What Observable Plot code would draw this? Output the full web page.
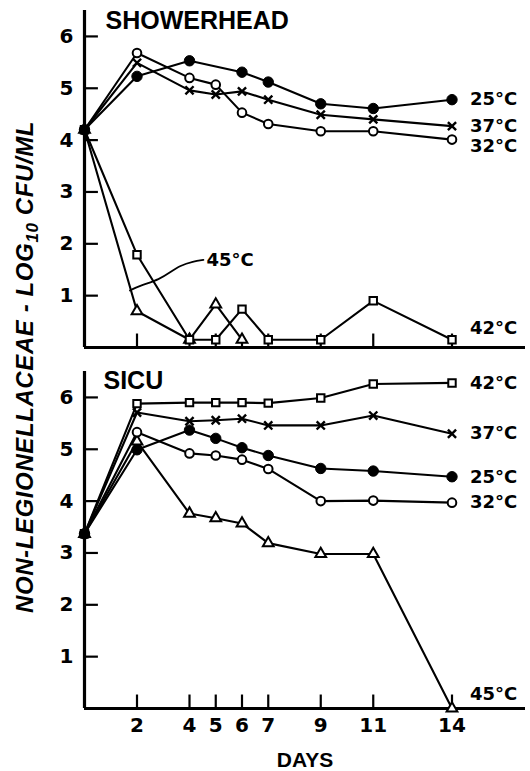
<!DOCTYPE html>
<html><head><meta charset="utf-8">
<script src="https://cdn.jsdelivr.net/npm/d3@7"></script>
<script src="https://cdn.jsdelivr.net/npm/@observablehq/plot@0.6"></script>
<style>
body{margin:0;background:#fff;}
#fig{position:relative;width:530px;height:771px;overflow:hidden;background:#fff;}
#fig svg{display:block;}
</style></head><body><div id="fig"></div>
<script>
// ---- data ----
const days = [0, 2, 4, 5, 6, 7, 9, 11, 14];
const seriesNames = ["25°C", "32°C", "37°C", "42°C", "45°C"];

// SHOWERHEAD panel (log10 CFU/ml)
const shower25 = [4.2, 5.23, 5.53, null, 5.31, 5.12, 4.70, 4.61, 4.78];
const shower32 = [4.2, 5.68, 5.20, 5.07, 4.53, 4.31, 4.17, 4.17, 4.01];
const shower37 = [4.2, 5.49, 4.96, 4.88, 4.94, 4.78, 4.49, 4.40, 4.27];
const shower42 = [4.2, 1.79, 0.15, 0.15, 0.74, 0.15, 0.15, 0.90, 0.15];
const shower45 = [4.2, 0.70, 0.15, 0.83, 0.15, null, null, null, null];

// SICU panel
const sicu25 = [3.37, 4.99, 5.37, 5.21, 5.03, 4.88, 4.63, 4.58, 4.47];
const sicu32 = [3.37, 5.33, 4.92, 4.88, 4.80, 4.62, 4.00, 4.01, 3.97];
const sicu37 = [3.37, 5.71, 5.54, 5.56, 5.59, 5.46, 5.46, 5.65, 5.30];
const sicu42 = [3.37, 5.88, 5.90, 5.90, 5.90, 5.89, 5.99, 6.26, 6.28];
const sicu45 = [3.37, 5.15, 3.76, 3.67, 3.57, 3.19, 2.98, 2.98, 0.00];

const yTicks = [1, 2, 3, 4, 5, 6];
const xTicks = [2, 4, 5, 6, 7, 9, 11, 14];

// leader line of the "45°C" note in the SHOWERHEAD panel
const leaderDays = [1.73, 2.11, 2.88, 3.26, 3.64, 4.14, 4.53];
const leaderValues = [1.10, 1.19, 1.32, 1.45, 1.58, 1.66, 1.69];

// ---- build tables ----
function rowsOf(arrays) {
  const rows = [];
  seriesNames.forEach((s, i) => {
    const vals = arrays[i];
    if (!vals) return;
    days.forEach((d, j) => { if (vals[j] != null) rows.push({series: s, day: d, value: vals[j]}); });
  });
  return rows;
}
const showerRows = rowsOf([shower25, shower32, shower37, shower42, shower45]);
const sicuRows = rowsOf([sicu25, sicu32, sicu37, sicu42, sicu45]);
const leaderRows = leaderDays.map((d, i) => ({day: d, value: leaderValues[i]}));

// ---- styles ----
const NUM_FONT = "DejaVu Sans";
const TITLE_FONT = "Liberation Sans";
const xDomain = [0, 16.8];
const yDomain = [0, 6.5];
const tickLenX = 0.53;   // in days
const tickLenY = 0.26;   // in log units

function dotMarks(rows) {
  const pick = s => rows.filter(r => r.series === s);
  return [
    Plot.dot(pick("45°C"), {x: "day", y: "value", symbol: "triangle", r: 4.0, fill: "white", stroke: "black", strokeWidth: 2}),
    Plot.dot(pick("42°C"), {x: "day", y: "value", symbol: "square", r: 4.2, fill: "white", stroke: "black", strokeWidth: 2}),
    Plot.dot(pick("37°C"), {x: "day", y: "value", symbol: "times", r: 3.8, stroke: "black", strokeWidth: 2.4}),
    Plot.dot(pick("32°C"), {x: "day", y: "value", r: 4.3, fill: "white", stroke: "black", strokeWidth: 2}),
    Plot.dot(pick("25°C"), {x: "day", y: "value", r: 5.2, fill: "black", stroke: "black", strokeWidth: 1})
  ];
}

function endLabels(rows, names, offsets) {
  return names.map(s => {
    const pts = rows.filter(r => r.series === s);
    const last = pts[pts.length - 1];
    return Plot.text([last], {
      x: "day", y: "value", text: "series", dx: 18, dy: offsets[s] || 0,
      textAnchor: "start", lineAnchor: "middle",
      fontFamily: NUM_FONT, fontWeight: "bold", fontSize: 18, fill: "black"
    });
  });
}

function axisFrame() {
  return [
    Plot.ruleY(yTicks, {x1: 0, x2: tickLenX, stroke: "black", strokeWidth: 2.2}),
    Plot.ruleX(xTicks, {y1: 0, y2: tickLenY, stroke: "black", strokeWidth: 2.2}),
    Plot.ruleX([0], {y1: 0, y2: yDomain[1], stroke: "black", strokeWidth: 3.2}),
    Plot.ruleY([0], {x1: 0, x2: xDomain[1], stroke: "black", strokeWidth: 3.2}),
    Plot.axisY({ticks: yTicks, tickSize: 0, tickPadding: 11, tickFormat: d3.format("d"), label: null,
      fontSize: 20, fontWeight: "bold", fontFamily: NUM_FONT})
  ];
}

function lineMarks(rows) {
  return [Plot.line(rows, {x: "day", y: "value", z: "series", stroke: "black", strokeWidth: 2.1, strokeLinejoin: "round"})];
}

const baseStyle = {background: "white", color: "black", fontFamily: NUM_FONT, fontSize: "20px", overflow: "visible"};

// ---- top panel ----
const topPanel = Plot.plot({
  width: 530, height: 355,
  marginLeft: 84, marginRight: 5, marginTop: 10, marginBottom: 8,
  style: baseStyle,
  x: {domain: xDomain, axis: null},
  y: {domain: yDomain},
  marks: [
    ...axisFrame(),
    ...lineMarks(showerRows),
    Plot.line(leaderRows, {x: "day", y: "value", curve: "basis", stroke: "black", strokeWidth: 1.8}),
    ...dotMarks(showerRows),
    ...endLabels(showerRows, ["25°C", "37°C", "32°C", "42°C"], {"32°C": 6.5, "42°C": -11}),
    Plot.text([leaderRows[leaderRows.length - 1]], {x: "day", y: "value", text: () => "45°C", dx: 3,
      textAnchor: "start", lineAnchor: "middle", fontFamily: NUM_FONT, fontWeight: "bold", fontSize: 18}),
    Plot.text(["SHOWERHEAD"], {frameAnchor: "top-left", dx: 21, dy: 1, textAnchor: "start", lineAnchor: "top",
      fontFamily: TITLE_FONT, fontWeight: "bold", fontSize: 25})
  ]
});

// ---- bottom panel ----
const bottomPanel = Plot.plot({
  width: 530, height: 416,
  marginLeft: 84, marginRight: 5, marginTop: 16, marginBottom: 63,
  style: baseStyle,
  x: {domain: xDomain},
  y: {domain: yDomain},
  marks: [
    ...axisFrame(),
    Plot.axisX({ticks: xTicks, tickSize: 0, tickPadding: 9, tickFormat: d3.format("d"), label: null,
      fontSize: 20, fontWeight: "bold", fontFamily: NUM_FONT}),
    ...lineMarks(sicuRows),
    ...dotMarks(sicuRows),
    ...endLabels(sicuRows, ["42°C", "37°C", "25°C", "32°C", "45°C"], {"45°C": -14}),
    Plot.text(["SICU"], {frameAnchor: "top-left", dx: 19, dy: 0, textAnchor: "start", lineAnchor: "top",
      fontFamily: TITLE_FONT, fontWeight: "bold", fontSize: 25}),
    Plot.text(["DAYS"], {frameAnchor: "bottom", dy: 52, lineAnchor: "middle",
      fontFamily: TITLE_FONT, fontWeight: "bold", fontSize: 21})
  ]
});

const fig = document.getElementById("fig");
fig.appendChild(topPanel);
fig.appendChild(bottomPanel);

// ---- shared y-axis title ----
const lab = d3.create("svg")
  .attr("width", 60).attr("height", 771)
  .style("position", "absolute").style("left", "0px").style("top", "0px").style("overflow", "visible");
const t = lab.append("text")
  .attr("transform", "translate(33,367) rotate(-90)")
  .attr("text-anchor", "middle")
  .attr("font-family", TITLE_FONT).attr("font-weight", "bold").attr("font-style", "italic")
  .attr("font-size", 24).attr("letter-spacing", 0.6).attr("fill", "black");
t.append("tspan").text("NON-LEGIONELLACEAE - LOG");
t.append("tspan").attr("font-size", 17).attr("dy", 5).text("10");
t.append("tspan").attr("dy", -5).text(" CFU/ML");
fig.appendChild(lab.node());
</script>
</body></html>
